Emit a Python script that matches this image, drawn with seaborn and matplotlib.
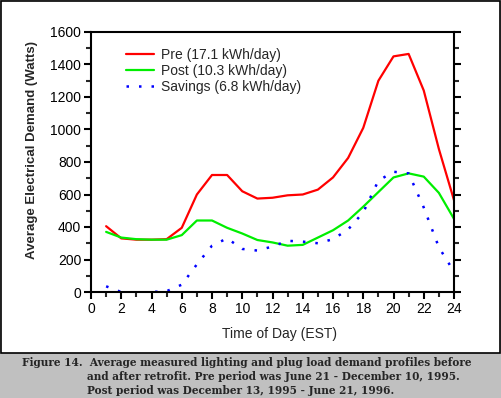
import numpy as np
import pandas as pd
import matplotlib
matplotlib.use("Agg")
import matplotlib.pyplot as plt
import matplotlib.patches as mpatches
import seaborn as sns

# ── Data ──────────────────────────────────────────────────────────────────────
hours = list(range(1, 25))
pre = [405, 330, 322, 322, 325, 395, 600, 720, 720, 620, 575, 580,
       595, 600, 630, 705, 825, 1010, 1300, 1450, 1465, 1240, 880, 565]
post = [370, 335, 325, 322, 322, 350, 440, 440, 395, 360, 320, 305,
        285, 290, 335, 380, 440, 525, 615, 705, 730, 710, 610, 450]
savings = [35, 0, -5, 0, 5, 45, 170, 285, 330, 265, 255, 280,
           315, 310, 300, 325, 385, 490, 685, 740, 730, 520, 275, 125]

labels = ["Pre (17.1 kWh/day)", "Post (10.3 kWh/day)", "Savings (6.8 kWh/day)"]
caption = [
    "Figure 14.  Average measured lighting and plug load demand profiles before",
    "and after retrofit. Pre period was June 21 - December 10, 1995.",
    "Post period was December 13, 1995 - June 21, 1996.",
]

# ── Style ─────────────────────────────────────────────────────────────────────
sns.set_style("ticks")
plt.rcParams["font.family"] = ["Liberation Sans", "DejaVu Sans"]
plt.rcParams["axes.linewidth"] = 1.5

W, H = 501, 398
fig = plt.figure(figsize=(W / 100, H / 100), dpi=100, facecolor="#C0C0C0")

# white panel with black border
panel = mpatches.Rectangle((0.5 / W, 1 - 353 / H), (W - 2) / W, 352 / H,
                           transform=fig.transFigure, facecolor="white",
                           edgecolor="black", linewidth=1.2, zorder=-5)
fig.patches.append(panel)

ax = fig.add_axes([91 / W, 1 - 292 / H, 363 / W, 260 / H])
ax.set_zorder(2)
ax.set_facecolor("white")

df = pd.DataFrame({"hour": hours, "pre": pre, "post": post, "savings": savings})
sns.lineplot(data=df, x="hour", y="pre", ax=ax, color="#FF0000", lw=1.6,
             label=labels[0])
sns.lineplot(data=df, x="hour", y="post", ax=ax, color="#00EE00", lw=1.6,
             label=labels[1])
sns.lineplot(data=df, x="hour", y="savings", ax=ax, color="#0000FF", lw=1.8,
             linestyle=(0, (1, 4)), label=labels[2])

ax.set_xlim(0, 24)
ax.set_ylim(0, 1600)
ax.set_xticks(range(0, 25, 2))
ax.set_xticks(range(0, 25, 1), minor=True)
ax.set_yticks(range(0, 1601, 200))
ax.set_yticks(range(0, 1601, 100), minor=True)
ax.tick_params(axis="both", which="major", length=5, width=1.5, labelsize=10,
               colors="black", pad=2)
ax.tick_params(axis="both", which="minor", length=3.5, width=1.5)
ax.tick_params(axis="y", which="both", right=True, left=True)
for s in ax.spines.values():
    s.set_visible(True)
    s.set_color("black")
    s.set_linewidth(1.5)

ax.set_xlabel("Time of Day (EST)", fontsize=10)
ax.xaxis.set_label_coords(0.518, -0.135)
ax.set_ylabel("Average Electrical Demand (Watts)", fontsize=9.5,
              fontweight="bold")
ax.yaxis.set_label_coords(-0.146, 0.545)

ax.legend(loc="upper left", bbox_to_anchor=(0.081, 0.961), frameon=False,
          fontsize=10, handlelength=2.0, handletextpad=0.5,
          labelspacing=0.15, borderaxespad=0)

# caption in the gray band
cap_kw = dict(fontsize=7.6, fontweight="bold", va="center",
              family=["DejaVu Serif"])
fig.text(22 / W, 1 - 363 / H, caption[0], **cap_kw)
fig.text(87 / W, 1 - 376.5 / H, caption[1], **cap_kw)
fig.text(87 / W, 1 - 390 / H, caption[2], **cap_kw)

fig.savefig("out.png", dpi=100, facecolor=fig.get_facecolor())
